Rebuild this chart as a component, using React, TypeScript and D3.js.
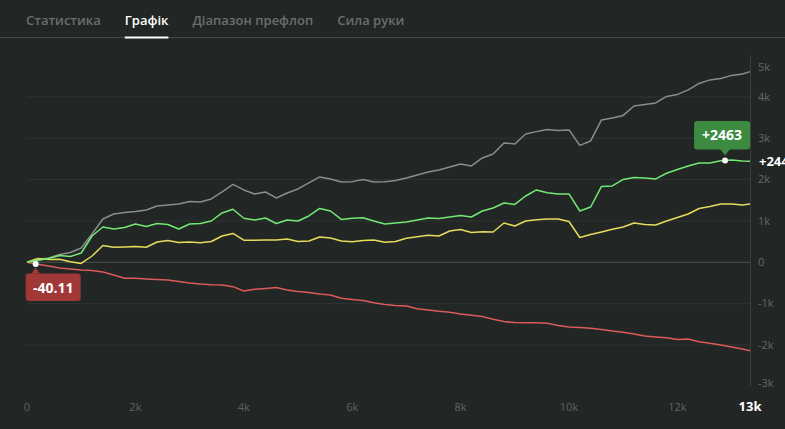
import * as d3 from "d3";
import { useEffect, useRef } from "react";

const tabs = ["Статистика", "Графік", "Діапазон префлоп", "Сила руки"];
const activeTab = 1;

// hands played, sampled every 200 hands, last point is the session total
const handStep = 200;
const totalHands = 13340;

const grayLine = [
  0, 68, 104, 189, 237, 346, 685, 1048, 1169, 1205, 1229, 1266, 1362, 1387, 1411, 1471, 1459,
  1532, 1701, 1883, 1750, 1653, 1701, 1556, 1677, 1774, 1919, 2064, 2016, 1943, 1951, 2004,
  1943, 1951, 1980, 2040, 2113, 2185, 2234, 2306, 2379, 2330, 2524, 2621, 2887, 2863, 3105,
  3161, 3214, 3190, 3202, 2827, 2935, 3444, 3492, 3553, 3782, 3819, 3855, 4012, 4061, 4170,
  4327, 4412, 4448, 4521, 4557, 4613,
];

const greenLine = [
  0, 44, 92, 165, 140, 225, 636, 854, 806, 842, 927, 866, 939, 915, 806, 927, 939, 999, 1193,
  1283, 1065, 1024, 1072, 939, 1024, 999, 1120, 1302, 1241, 1036, 1065, 1079, 999, 927, 951,
  975, 1024, 1072, 1060, 1096, 1133, 1096, 1241, 1314, 1435, 1399, 1604, 1750, 1684, 1653,
  1653, 1241, 1338, 1834, 1846, 2004, 2052, 2040, 2016, 2154, 2246, 2330, 2403, 2403, 2458,
  2475, 2451, 2446,
];

const yellowLine = [
  0, 92, 68, 73, 15, -29, 152, 407, 363, 370, 382, 363, 491, 528, 479, 491, 474, 503, 636, 697,
  535, 532, 540, 540, 564, 503, 515, 612, 588, 515, 499, 528, 540, 484, 503, 581, 620, 653, 636,
  757, 794, 721, 741, 733, 951, 878, 999, 1029, 1048, 1048, 987, 600, 673, 733, 799, 854, 951,
  915, 903, 999, 1084, 1169, 1302, 1350, 1411, 1411, 1387, 1411,
];

const redLine = [
  0, -50, -90, -138, -162, -186, -198, -235, -307, -387, -387, -404, -416, -428, -465, -501,
  -525, -542, -549, -590, -695, -653, -634, -610, -670, -707, -731, -767, -791, -871, -900,
  -924, -978, -1021, -1045, -1058, -1125, -1154, -1186, -1210, -1251, -1283, -1312, -1379,
  -1433, -1459, -1462, -1462, -1476, -1529, -1566, -1578, -1597, -1626, -1663, -1694, -1735,
  -1784, -1808, -1827, -1868, -1856, -1924, -1960, -2001, -2050, -2098, -2139,
];

const series = [
  { name: "gray", values: grayLine, color: "#8b8c8b" },
  { name: "red", values: redLine, color: "#dc5a5a" },
  { name: "yellow", values: yellowLine, color: "#e6dc5c" },
  { name: "green", values: greenLine, color: "#74e874" },
];

const yTicks = [5000, 4000, 3000, 2000, 1000, 0, -1000, -2000, -3000];
const xTicks = [0, 2000, 4000, 6000, 8000, 10000, 12000];
const endLabel = "13k";

const greenTip = { hand: 12880, value: 2463, label: "+2463" };
const redTip = { hand: 160, value: -40.11, label: "-40.11" };
const greenEndLabel = "+2446";

const W = 785;
const H = 429;
const BG = "#222625";
const FONT = "'Open Sans', 'Noto Sans', sans-serif";

function handAt(i: number, n: number) {
  return i === n - 1 ? totalHands : i * handStep;
}

export default function App() {
  const ref = useRef<SVGSVGElement>(null);

  useEffect(() => {
    if (!ref.current) return;
    const svg = d3.select(ref.current);
    svg.selectAll("*").remove();

    const x = d3.scaleLinear().domain([0, totalHands]).range([27, 750]);
    const y = d3.scaleLinear().domain([-3000, 5000]).range([386.3, 55.6]);

    svg.append("rect").attr("width", W).attr("height", H).attr("fill", BG);

    svg
      .append("line")
      .attr("x1", 0)
      .attr("x2", W)
      .attr("y1", 37.5)
      .attr("y2", 37.5)
      .attr("stroke", "#454a48");

    // tabs
    const tabG = svg.append("g");
    let tx = 26;
    tabs.forEach((t, i) => {
      const txt = tabG
        .append("text")
        .attr("x", tx)
        .attr("y", 25)
        .attr("font-family", FONT)
        .attr("font-size", 13)
        .attr("font-weight", 600)
        .attr("fill", i === activeTab ? "#ffffff" : "#6a6f6d")
        .text(t);
      const w = (txt.node() as SVGTextElement).getComputedTextLength();
      if (i === activeTab) {
        tabG
          .append("rect")
          .attr("x", tx)
          .attr("y", 36.5)
          .attr("width", w)
          .attr("height", 2)
          .attr("fill", "#ffffff");
      }
      tx += w + 24;
    });

    // grid
    svg
      .selectAll("line.grid")
      .data(yTicks.filter((d) => d > -3000 && d < 5000))
      .enter()
      .append("line")
      .attr("class", "grid")
      .attr("x1", 27)
      .attr("x2", 750)
      .attr("y1", (d) => y(d))
      .attr("y2", (d) => y(d))
      .attr("stroke", (d) => (d === 0 ? "#4c5150" : "#2f3432"))
      .attr("stroke-width", 1);

    svg
      .append("line")
      .attr("x1", 750.5)
      .attr("x2", 750.5)
      .attr("y1", y(5000))
      .attr("y2", y(-3000))
      .attr("stroke", "#3a3f3d");

    // y labels on the right
    svg
      .selectAll("text.ylab")
      .data(yTicks)
      .enter()
      .append("text")
      .attr("class", "ylab")
      .attr("x", 758)
      .attr("y", (d) => Math.min(383, Math.max(67, y(d))))
      .attr("dy", "0.35em")
      .attr("font-family", FONT)
      .attr("font-size", 11)
      .attr("fill", "#646967")
      .text((d) => (d === 0 ? "0" : `${d / 1000}k`));

    // x labels
    svg
      .selectAll("text.xlab")
      .data(xTicks)
      .enter()
      .append("text")
      .attr("class", "xlab")
      .attr("x", (d) => x(d))
      .attr("y", 407)
      .attr("dy", "0.35em")
      .attr("text-anchor", "middle")
      .attr("font-family", FONT)
      .attr("font-size", 11)
      .attr("fill", "#5f6462")
      .text((d) => (d === 0 ? "0" : `${d / 1000}k`));

    svg
      .append("text")
      .attr("x", x(totalHands))
      .attr("y", 406)
      .attr("dy", "0.35em")
      .attr("text-anchor", "middle")
      .attr("font-family", FONT)
      .attr("font-size", 13)
      .attr("font-weight", 700)
      .attr("fill", "#ffffff")
      .text(endLabel);

    // lines
    const line = d3
      .line<number>()
      .x((_, i, arr) => x(handAt(i, arr.length)))
      .y((d) => y(d))
      .curve(d3.curveLinear);

    svg
      .selectAll("path.series")
      .data(series)
      .enter()
      .append("path")
      .attr("class", "series")
      .attr("d", (d) => line(d.values))
      .attr("fill", "none")
      .attr("stroke", (d) => d.color)
      .attr("stroke-width", 1.5)
      .attr("stroke-linejoin", "round");

    // end label for green (runs off the right edge as in the original)
    svg
      .append("text")
      .attr("x", 759)
      .attr("y", y(greenLine[greenLine.length - 1]))
      .attr("dy", "0.35em")
      .attr("font-family", FONT)
      .attr("font-size", 13)
      .attr("font-weight", 700)
      .attr("fill", "#ffffff")
      .text(greenEndLabel);

    // green tooltip
    const gx = x(greenTip.hand);
    const gy = y(greenTip.value);
    const gt = svg.append("g").attr("transform", `translate(${gx},${gy})`);
    gt.append("rect")
      .attr("x", -31)
      .attr("y", -39.5)
      .attr("width", 56)
      .attr("height", 28.5)
      .attr("rx", 3)
      .attr("fill", "#3d8b41");
    gt.append("path").attr("d", "M-5,-11.5L5,-11.5L0,-5Z").attr("fill", "#3d8b41");
    gt.append("text")
      .attr("x", -3)
      .attr("y", -25)
      .attr("dy", "0.35em")
      .attr("text-anchor", "middle")
      .attr("font-family", FONT)
      .attr("font-size", 14)
      .attr("font-weight", 700)
      .attr("fill", "#ffffff")
      .text(greenTip.label);
    gt.append("circle").attr("r", 3).attr("fill", "#ffffff");

    // red tooltip
    const rx = x(redTip.hand);
    const ry = y(redTip.value);
    const rt = svg.append("g").attr("transform", `translate(${rx},${ry})`);
    rt.append("rect")
      .attr("x", -10)
      .attr("y", 9.5)
      .attr("width", 55)
      .attr("height", 27.5)
      .attr("rx", 3)
      .attr("fill", "#a03838");
    rt.append("path").attr("d", "M-4,9.5L4,9.5L0,3.5Z").attr("fill", "#a03838");
    rt.append("text")
      .attr("x", 17.5)
      .attr("y", 24)
      .attr("dy", "0.35em")
      .attr("text-anchor", "middle")
      .attr("font-family", FONT)
      .attr("font-size", 14)
      .attr("font-weight", 700)
      .attr("fill", "#ffffff")
      .text(redTip.label);
    rt.append("circle").attr("r", 3).attr("fill", "#ffffff");
  }, []);

  return (
    <svg
      ref={ref}
      width={W}
      height={H}
      xmlns="http://www.w3.org/2000/svg"
      style={{ position: "absolute", left: 0, top: 0, display: "block" }}
    />
  );
}
